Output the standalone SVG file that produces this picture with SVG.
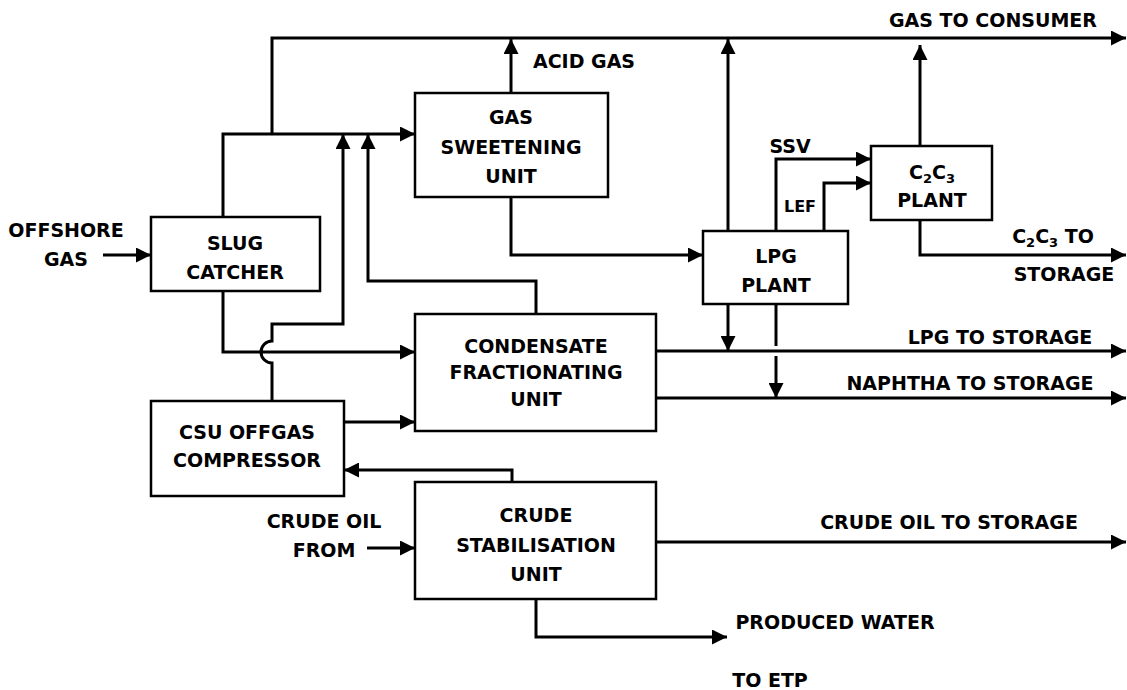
<svg xmlns="http://www.w3.org/2000/svg" width="1127" height="690" viewBox="0 0 1127 690">
<style>
.box{fill:#fff;stroke:#000;stroke-width:2.5}
.ln{fill:none;stroke:#000;stroke-width:3}
.arr{marker-end:url(#ah)}
text{font-family:"DejaVu Sans","Liberation Sans",sans-serif;font-weight:bold;font-size:19px;fill:#000;text-anchor:middle}
.sub{font-size:13px}
.sm{font-size:16px}
</style>
<defs>
<marker id="ah" markerUnits="userSpaceOnUse" markerWidth="15" markerHeight="15" refX="15" refY="7.5" orient="auto">
<path d="M0,0 L15,7.5 L0,15 z" fill="#000"/>
</marker>
</defs>
<rect width="1127" height="690" fill="#fff"/>
<g id="connectors">
<path class="ln arr" d="M103,255 H151"/>
<path class="ln arr" d="M223,217 V134 H415"/>
<path class="ln arr" d="M272,134 V38 H1126"/>
<path class="ln arr" d="M511,93 V39"/>
<path class="ln arr" d="M728,231 V39"/>
<path class="ln arr" d="M920,146 V45"/>
<path class="ln arr" d="M511,197 V255 H703"/>
<path class="ln arr" d="M776,231 V159 H871"/>
<path class="ln arr" d="M824,231 V183 H871"/>
<path class="ln arr" d="M920,220 V255 H1126"/>
<path class="ln arr" d="M223,291 V352 H415"/>
<path class="ln arr" d="M272,401 V363 A11,11 0 0 1 272,341 V324 H343 V134"/>
<path class="ln arr" d="M536,314 V281 H368 V134"/>
<path class="ln arr" d="M344,422 H415"/>
<path class="ln arr" d="M512,482 V470 H344"/>
<path class="ln arr" d="M367,548 H415"/>
<path class="ln arr" d="M536,599 V637 H727"/>
<path class="ln arr" d="M656,542 H1126"/>
<path class="ln arr" d="M656,351 H1126"/>
<path class="ln arr" d="M656,398 H1126"/>
<path class="ln arr" d="M728,304 V351"/>
<path class="ln" d="M776,304 V346"/>
<path class="ln arr" d="M776,356 V398"/>
</g>
<g id="gas-sweetening">
<rect class="box" x="415" y="93" width="193" height="104"/>
<text x="511" y="124">GAS</text>
<text x="511" y="154">SWEETENING</text>
<text x="511" y="183">UNIT</text>
</g>
<g id="slug-catcher">
<rect class="box" x="151" y="217" width="169" height="74"/>
<text x="235" y="250">SLUG</text>
<text x="235" y="279">CATCHER</text>
</g>
<g id="csu-compressor">
<rect class="box" x="151" y="401" width="193" height="95"/>
<text x="247" y="439">CSU OFFGAS</text>
<text x="247" y="467">COMPRESSOR</text>
</g>
<g id="condensate">
<rect class="box" x="415" y="314" width="241" height="117"/>
<text x="536" y="353">CONDENSATE</text>
<text x="536" y="379">FRACTIONATING</text>
<text x="536" y="406">UNIT</text>
</g>
<g id="lpg-plant">
<rect class="box" x="703" y="231" width="145" height="73"/>
<text x="776" y="263">LPG</text>
<text x="776" y="292">PLANT</text>
</g>
<g id="c2c3-plant">
<rect class="box" x="871" y="146" width="121" height="74"/>
<text x="932" y="179">C<tspan class="sub" dy="4">2</tspan><tspan dy="-4">C</tspan><tspan class="sub" dy="4">3</tspan></text>
<text x="932" y="207">PLANT</text>
</g>
<g id="crude-stabilisation">
<rect class="box" x="415" y="482" width="241" height="117"/>
<text x="536" y="522">CRUDE</text>
<text x="536" y="552">STABILISATION</text>
<text x="536" y="581">UNIT</text>
</g>
<g id="labels">
<text x="66" y="237">OFFSHORE</text>
<text x="66" y="266">GAS</text>
<text x="324" y="528">CRUDE OIL</text>
<text x="324" y="557">FROM</text>
<text x="584" y="68">ACID GAS</text>
<text x="993" y="27">GAS TO CONSUMER</text>
<text x="790" y="153">SSV</text>
<text class="sm" x="800" y="212">LEF</text>
<text x="1053" y="243">C<tspan class="sub" dy="4">2</tspan><tspan dy="-4">C</tspan><tspan class="sub" dy="4">3</tspan><tspan dy="-4"> TO</tspan></text>
<text x="1064" y="281">STORAGE</text>
<text x="1000" y="344">LPG TO STORAGE</text>
<text x="970" y="390">NAPHTHA TO STORAGE</text>
<text x="949" y="529">CRUDE OIL TO STORAGE</text>
<text x="835" y="629">PRODUCED WATER</text>
<text x="770" y="687">TO ETP</text>
</g>
</svg>
